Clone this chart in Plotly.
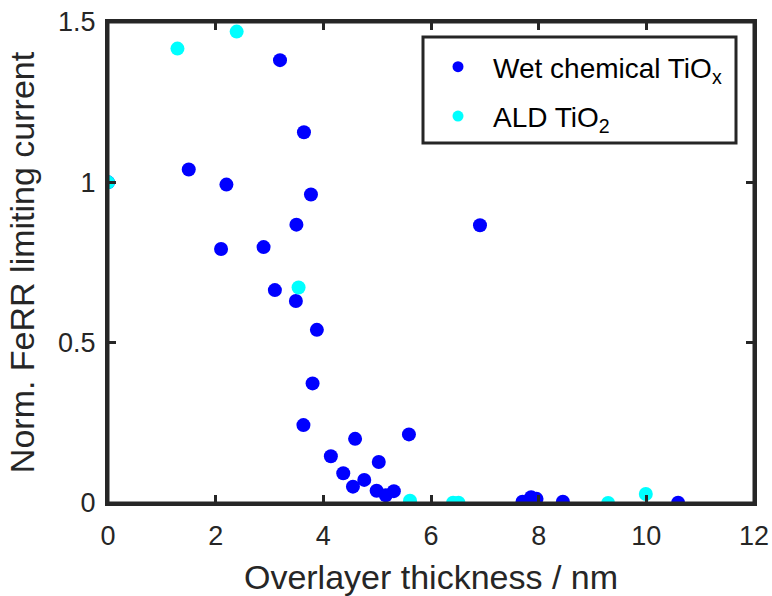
import plotly.graph_objects as go

# Wet chemical TiOx
wet_x = [0.0, 1.50, 2.20, 2.10, 2.89, 3.195, 3.64, 3.77, 3.50, 3.10, 3.49, 3.88, 3.80, 3.63,
         4.59, 5.59, 4.14, 5.03, 4.37, 4.76, 4.55, 4.99, 5.16, 5.31, 6.91,
         7.70, 7.73, 7.86, 7.96, 8.45, 10.59]
wet_y = [1.0, 1.04, 0.993, 0.792, 0.798, 1.381, 1.156, 0.962, 0.868, 0.664, 0.630, 0.540, 0.373, 0.243,
         0.200, 0.214, 0.146, 0.128, 0.093, 0.072, 0.051, 0.038, 0.024, 0.037, 0.866,
         0.004, 0.0, 0.018, 0.013, 0.004, 0.001]

# ALD TiO2
ald_x = [0.0, 1.29, 2.39, 3.54, 5.61, 6.41, 6.51, 9.29, 9.99]
ald_y = [1.0, 1.417, 1.47, 0.672, 0.007, 0.001, 0.001, 0.0, 0.028]

series_names = ["Wet chemical TiO<sub>x</sub>", "ALD TiO<sub>2</sub>"]
series_colors = ["#0000FF", "#00FFFF"]

x_ticks = [0, 2, 4, 6, 8, 10, 12]
y_ticks = [0, 0.5, 1, 1.5]
y_tick_text = ["0", "0.5", "1", "1.5"]

FONT = "Liberation Sans, Arial, sans-serif"
AX = "#262626"

W, H = 772, 596
ML, MR, MT, MB = 108, 18, 22, 93
PW, PH = W - ML - MR, H - MT - MB

fig = go.Figure()
for xs, ys, nm, col in [(wet_x, wet_y, series_names[0], series_colors[0]),
                        (ald_x, ald_y, series_names[1], series_colors[1])]:
    fig.add_trace(go.Scatter(x=xs, y=ys, mode="markers", name=nm, showlegend=False,
                             marker=dict(color=col, size=14, line=dict(width=0))))
# legend entries (smaller symbols like the reference legend)
for i, (nm, col) in enumerate(zip(series_names, series_colors)):
    fig.add_trace(go.Scatter(x=[None], y=[None], mode="markers", name=nm,
                             legendgroup=str(i), showlegend=True,
                             marker=dict(color=col, size=11, line=dict(width=0))))

axis_common = dict(showline=True, linecolor=AX, linewidth=3, mirror="ticks",
                   ticks="inside", ticklen=8, tickwidth=3, tickcolor=AX,
                   showgrid=False, zeroline=False, automargin=False,
                   tickfont=dict(family=FONT, size=27, color=AX))

fig.update_layout(
    xaxis=dict(range=[0, 12], tickvals=x_ticks, ticklabelstandoff=7, **axis_common,
               title=dict(text="Overlayer thickness / nm",
                          font=dict(family=FONT, size=34, color=AX), standoff=17)),
    yaxis=dict(range=[0, 1.5], tickvals=y_ticks, ticktext=y_tick_text, ticklabelstandoff=4,
               **axis_common,
               title=dict(text="Norm. FeRR limiting current",
                          font=dict(family=FONT, size=34, color=AX), standoff=14)),
)

# axes box frame (drawn as a paper-referenced rectangle so the top edge always shows)
fig.add_shape(type="rect", xref="paper", yref="paper", x0=0, x1=1, y0=0, y1=1,
              line=dict(color=AX, width=3), fillcolor="rgba(0,0,0,0)", layer="above")

# legend frame (page pixels)
lx0, lx1, ly0, ly1 = 423, 736, 37, 143
fig.add_shape(type="rect", xref="paper", yref="paper",
              x0=(lx0 - ML) / PW, x1=(lx1 - ML) / PW,
              y0=(MT + PH - ly1) / PH, y1=(MT + PH - ly0) / PH,
              line=dict(color=AX, width=3), fillcolor="rgba(0,0,0,0)", layer="above")

fig.update_layout(
    width=W, height=H,
    margin=dict(l=ML, r=MR, t=MT, b=MB),
    paper_bgcolor="white", plot_bgcolor="white",
    showlegend=True,
    legend=dict(x=(lx0 - ML) / PW, y=(MT + PH - (ly0 + 5)) / PH, xanchor="left", yanchor="top",
                bgcolor="rgba(0,0,0,0)", borderwidth=0,
                font=dict(family=FONT, size=28, color="black"),
                traceorder="grouped", tracegroupgap=10, itemwidth=60),
)

fig.write_html("out.html", config={"displayModeBar": False},
               post_script="document.body.style.margin='0';document.body.style.overflow='hidden';")
